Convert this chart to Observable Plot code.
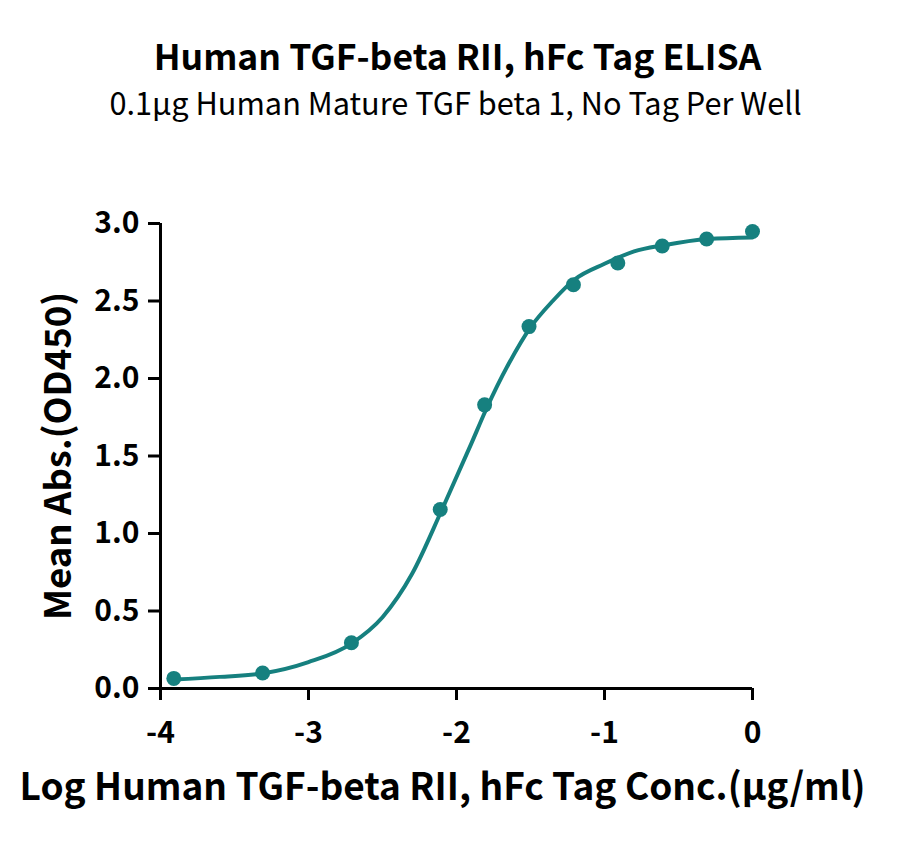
<!DOCTYPE html>
<html>
<head>
<meta charset="utf-8">
<script src="https://cdn.jsdelivr.net/npm/d3@7"></script>
<script src="https://cdn.jsdelivr.net/npm/@observablehq/plot@0.6"></script>
<style>
  html, body { margin: 0; padding: 0; background: #fff; }
  body { width: 900px; height: 843px; overflow: hidden; }
  #chart svg { display: block; }
</style>
</head>
<body>
<div id="chart"></div>
<script>
// Measured points: log concentration (μg/ml) vs mean OD450
const logConc = [-3.91, -3.31, -2.71, -2.11, -1.81, -1.51, -1.21, -0.91, -0.61, -0.31, 0];
const meanAbs = [0.065, 0.10, 0.295, 1.155, 1.83, 2.335, 2.605, 2.745, 2.855, 2.90, 2.948];

// Fitted curve
const curveX = [-3.91, -3.6, -3.31, -3.0, -2.71, -2.5, -2.3, -2.1, -1.9, -1.8, -1.65, -1.5, -1.35, -1.2, -1.0, -0.8, -0.6, -0.3, 0];
const curveY = [0.058, 0.075, 0.097, 0.17, 0.29, 0.46, 0.74, 1.15, 1.58, 1.80, 2.09, 2.33, 2.50, 2.64, 2.74, 2.82, 2.86, 2.90, 2.91];

const xTicks = [-4, -3, -2, -1, 0];
const yTicks = [0, 0.5, 1.0, 1.5, 2.0, 2.5, 3.0];

const title = "Human TGF-beta RII, hFc Tag ELISA";
const subtitle = "0.1μg Human Mature TGF beta 1, No Tag Per Well";
const xLabel = "Log Human TGF-beta RII, hFc Tag Conc.(μg/ml)";
const yLabel = "Mean Abs.(OD450)";

const teal = "#16807f";
const font = "'Noto Sans CJK SC', 'Source Sans Pro', 'Noto Sans', sans-serif";
const points = logConc.map((x, i) => ({x, y: meanAbs[i]}));
const curve = curveX.map((x, i) => ({x, y: curveY[i]}));

const chart = Plot.plot({
  width: 900,
  height: 843,
  marginTop: 223,
  marginBottom: 155,
  marginLeft: 160,
  marginRight: 148,
  style: { fontFamily: font, background: "#fff", color: "#000" },
  x: { domain: [-4, 0] },
  y: { domain: [0, 3] },
  marks: [
    Plot.axisX({ ticks: xTicks, tickSize: 12, tickPadding: 21, tickFormat: d => String(d).replace("\u2212", "-"), fontSize: 30, fontWeight: 700, strokeWidth: 3, label: null }),
    Plot.axisY({ ticks: yTicks, tickSize: 12, tickPadding: 9, tickFormat: d3.format(".1f"), fontSize: 30, fontWeight: 700, strokeWidth: 3, label: null }),
    Plot.ruleY([0], { x1: -4, x2: 0, stroke: "#000", strokeWidth: 3 }),
    Plot.ruleX([-4], { y1: 0, y2: 3, stroke: "#000", strokeWidth: 3 }),
    Plot.line(curve, { x: "x", y: "y", curve: "monotone-x", stroke: teal, strokeWidth: 4 }),
    Plot.dot(points, { x: "x", y: "y", r: 7.5, fill: teal, stroke: "none" }),
    Plot.text([title], { frameAnchor: "top", lineAnchor: "middle", textAnchor: "middle", dy: -165, dx: 1, fontSize: 35.5, fontWeight: 700, fill: "#000" }),
    Plot.text([subtitle], { frameAnchor: "top", lineAnchor: "middle", textAnchor: "middle", dy: -119, dx: -1, fontSize: 31.5, fontWeight: 400, fill: "#000" }),
    Plot.text([xLabel], { frameAnchor: "bottom", lineAnchor: "middle", textAnchor: "middle", dy: 99, dx: -14, fontSize: 38, fontWeight: 700, fill: "#000" }),
    Plot.text([yLabel], { frameAnchor: "left", lineAnchor: "middle", textAnchor: "middle", rotate: -90, dx: -101, fontSize: 36.5, fontWeight: 700, fill: "#000" })
  ]
});

// Reference font is a little narrower than the installed one: condense some labels
const squeeze = new Map([[subtitle, 0.975], [xLabel, 0.975]]);
chart.querySelectorAll("text").forEach(t => {
  const s = squeeze.get(t.textContent);
  if (s) {
    const tr = t.getAttribute("transform") || "";
    t.setAttribute("transform", tr + ` scale(${s},1)`);
  }
});
document.getElementById("chart").appendChild(chart);
</script>
</body>
</html>
